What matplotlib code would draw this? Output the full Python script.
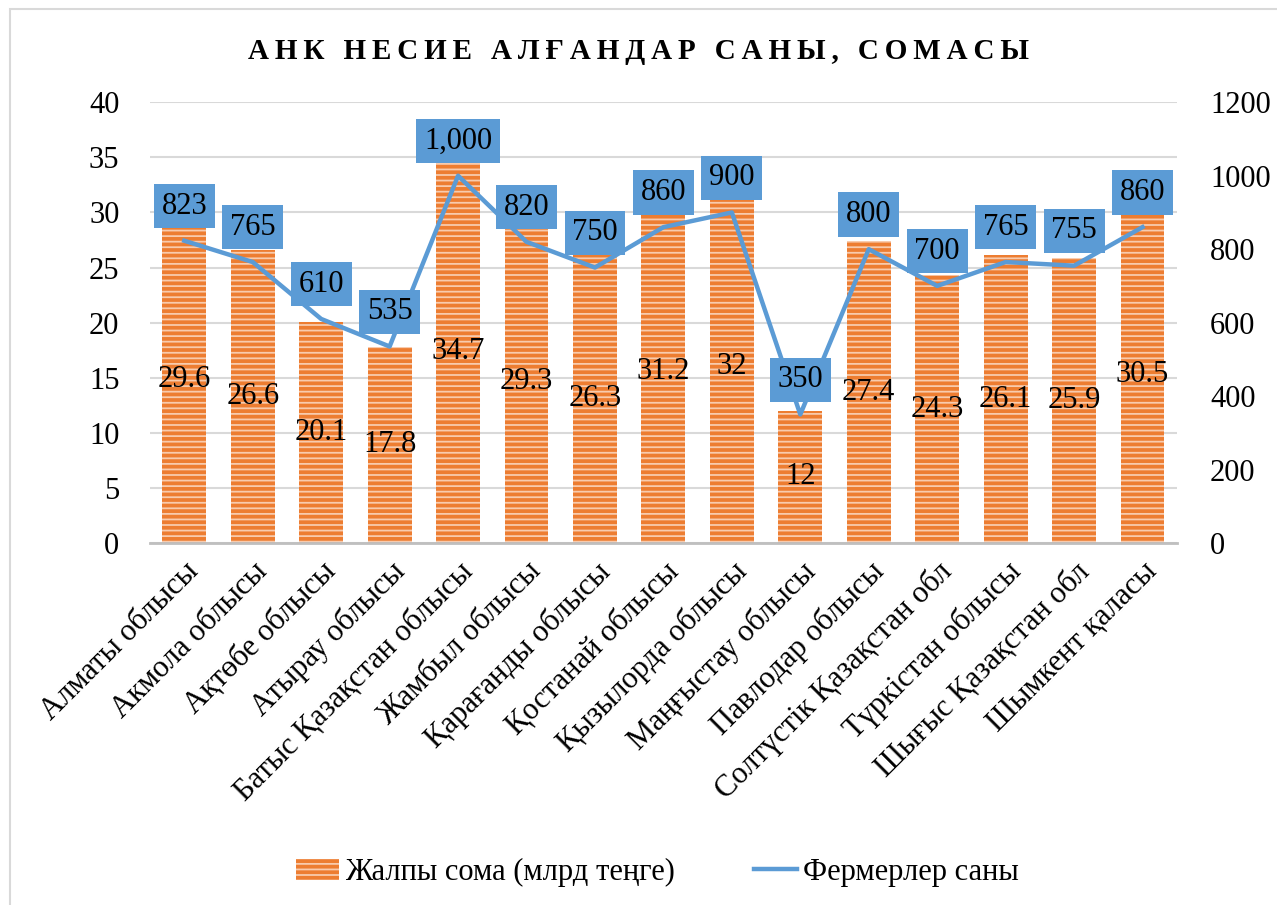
import matplotlib
matplotlib.use("Agg")
import matplotlib.pyplot as plt
from matplotlib.patches import Rectangle, Patch
from matplotlib.lines import Line2D
import numpy as np

plt.rcParams['font.family'] = ['Liberation Serif', 'DejaVu Serif']
plt.rcParams['hatch.linewidth'] = 1.3

categories = ["Алматы облысы", "Акмола облысы", "Ақтөбе облысы", "Атырау облысы",
              "Батыс Қазақстан облысы", "Жамбыл облысы", "Қарағанды облысы",
              "Қостанай облысы", "Қызылорда облысы", "Маңғыстау облысы",
              "Павлодар облысы", "Солтүстік Қазақстан обл", "Түркістан облысы",
              "Шығыс Қазақстан обл", "Шымкент қаласы"]
amount = [29.6, 26.6, 20.1, 17.8, 34.7, 29.3, 26.3, 31.2, 32, 12, 27.4, 24.3, 26.1, 25.9, 30.5]
farmers = [823, 765, 610, 535, 1000, 820, 750, 860, 900, 350, 800, 700, 765, 755, 860]

title = "АНК НЕСИЕ АЛҒАНДАР САНЫ, СОМАСЫ"
bar_name = "Жалпы сома (млрд теңге)"
line_name = "Фермерлер саны"

orange = '#ED7D31'
stripe = '#F8CBAD'
blue = '#5B9BD5'
FS = 22

fig = plt.figure(figsize=(12.77, 9.05), dpi=100)
fig.patches.append(Rectangle((0.008, -0.01), 1.0, 1.0, transform=fig.transFigure,
                             fill=False, edgecolor='#D9D9D9', linewidth=1.5))
ax = fig.add_axes([0.1175, 0.40, 0.804, 0.487])
ax2 = ax.twinx()

x = np.arange(len(categories))
bars = ax.bar(x, amount, width=0.64, color=orange, edgecolor=stripe,
              hatch='---', linewidth=0, zorder=2)
ax.bar_label(bars, labels=[f"{v:g}" for v in amount], label_type='center',
             fontsize=FS, color='black')

ax.set_ylim(0, 40)
ax.set_yticks(np.arange(0, 41, 5))
ax.set_xlim(-0.5, len(categories) - 0.5)
ax.grid(axis='y', color='#D9D9D9', linewidth=1.5, zorder=0)
ax.set_axisbelow(True)
for s in ['top', 'right', 'left']:
    ax.spines[s].set_visible(False)
ax.spines['bottom'].set_color('#BFBFBF')
ax.spines['bottom'].set_linewidth(2)
ax.tick_params(axis='y', length=0, labelsize=FS, pad=22)
ax.tick_params(axis='x', length=0, labelsize=FS, pad=10)
ax.set_xticks(x)
ax.set_xticklabels(categories, rotation=45, ha='right', rotation_mode='anchor', fontsize=FS)

ax2.plot(x, farmers, color=blue, linewidth=3.2, zorder=3)
ax2.set_ylim(0, 1200)
ax2.set_yticks(np.arange(0, 1201, 200))
for s in ax2.spines.values():
    s.set_visible(False)
ax2.tick_params(axis='y', length=0, labelsize=FS, pad=24)
for xi, v in zip(x, farmers):
    ax2.annotate(f"{v:,}", (xi, v), xytext=(0, 25), textcoords='offset points',
                 ha='center', va='center', fontsize=FS, color='black', zorder=5,
                 bbox=dict(boxstyle='square,pad=0.25', facecolor=blue, edgecolor='none'))

spaced = "\u2009".join(title)
fig.text(0.5, 0.943, spaced, ha='center', va='center', fontsize=21, fontweight='bold')

handles = [Patch(facecolor=orange, edgecolor=stripe, hatch='---', linewidth=0),
           Line2D([0], [0], color=blue, linewidth=3.2)]
fig.legend(handles, [bar_name, line_name], loc='center', bbox_to_anchor=(0.515, 0.036),
           ncol=2, frameon=False, fontsize=FS, handlelength=1.4, columnspacing=2.6,
           handletextpad=0.2)

fig.savefig('out.png', dpi=100)
